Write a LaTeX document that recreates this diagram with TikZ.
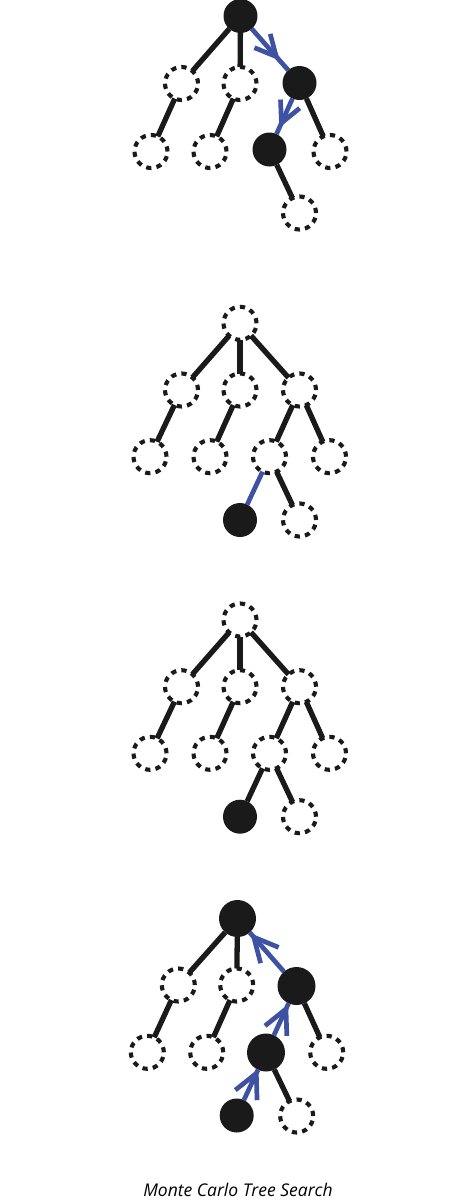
\documentclass[tikz,border=0pt]{standalone}
\usepackage{fontspec}
\setmainfont{Open Sans}
\usetikzlibrary{decorations.markings}
\definecolor{ink}{RGB}{26,26,26}
\definecolor{mblue}{RGB}{62,82,163}
\tikzset{
  onode/.style={circle,draw=ink,line width=4.1pt,dash pattern=on 5.2pt off 5.2pt,minimum size=33pt,inner sep=0pt,outer sep=0pt},
  fnode/.style={circle,fill=ink,minimum size=#1,inner sep=0pt,outer sep=0pt},
  fnode/.default=34pt,
  blk/.style={draw=ink,line width=5.3pt},
  blu/.style={draw=mblue,line width=4.7pt},
  chev/.style n args={3}{blu,postaction={decorate},
    decoration={markings,mark=at position #1 with {\draw[mblue,line width=4.7pt,solid,line join=miter] (-#2,#3) -- (0pt,0pt) -- (-#2,-#3);}}},
}
\begin{document}
\begin{tikzpicture}[x=1pt,y=-1pt]
\useasboundingbox (0,0) rectangle (476,1200);
% ---------- panel 1: selection ----------
\node[fnode] (r1) at (240.5,16) {};
\node[onode] (a1) at (181.5,83.5) {};
\node[onode] (b1) at (240,83.5) {};
\node[fnode] (c1) at (299.5,83) {};
\node[onode] (d1) at (151,151.5) {};
\node[onode] (e1) at (210,151.5) {};
\node[fnode] (f1) at (269.5,149.5) {};
\node[onode] (g1) at (330,151.5) {};
\node[onode] (h1) at (299.5,213) {};
\draw[blk] (r1) -- (a1);
\draw[blk] (r1) -- (b1);
\draw[blk] (a1) -- (d1);
\draw[blk] (b1) -- (e1);
\draw[blk] (c1) -- (g1);
\draw[blk] (f1) -- (h1);
\draw[chev={0.67}{21pt}{10.5pt}] (r1) -- (c1);
\draw[chev={0.69}{21pt}{10.5pt}] (c1) -- (f1);
% ---------- panel 2: expansion ----------
\node[onode] (r2) at (240,323.3) {};
\node[onode] (a2) at (181.5,390) {};
\node[onode] (b2) at (240,390) {};
\node[onode] (c2) at (299.5,390) {};
\node[onode] (d2) at (150,456.7) {};
\node[onode] (e2) at (210,456.7) {};
\node[onode] (f2) at (269.5,456.7) {};
\node[onode] (g2) at (329.5,456.7) {};
\node[fnode] (h2) at (240,520) {};
\node[onode] (i2) at (299.5,520) {};
\draw[blk] (r2) -- (a2);
\draw[blk] (r2) -- (b2);
\draw[blk] (r2) -- (c2);
\draw[blk] (a2) -- (d2);
\draw[blk] (b2) -- (e2);
\draw[blk] (c2) -- (f2);
\draw[blk] (c2) -- (g2);
\draw[blu] (f2) -- (h2);
\draw[blk] (f2) -- (i2);
% ---------- panel 3: simulation ----------
\node[onode] (r3) at (240,620) {};
\node[onode] (a3) at (181.5,686.7) {};
\node[onode] (b3) at (240,686.7) {};
\node[onode] (c3) at (299.5,686.7) {};
\node[onode] (d3) at (150,753.3) {};
\node[onode] (e3) at (210,753.3) {};
\node[onode] (f3) at (269.5,753.3) {};
\node[onode] (g3) at (329.5,753.3) {};
\node[fnode] (h3) at (240,816.7) {};
\node[onode] (i3) at (299.5,816.7) {};
\draw[blk] (r3) -- (a3);
\draw[blk] (r3) -- (b3);
\draw[blk] (r3) -- (c3);
\draw[blk] (a3) -- (d3);
\draw[blk] (b3) -- (e3);
\draw[blk] (c3) -- (f3);
\draw[blk] (c3) -- (g3);
\draw[blk] (f3) -- (h3);
\draw[blk] (f3) -- (i3);
% ---------- panel 4: backpropagation ----------
\node[fnode=37pt] (r4) at (237.5,918.5) {};
\node[onode] (a4) at (178.3,985) {};
\node[onode] (b4) at (236.7,985) {};
\node[fnode=38pt] (c4) at (296.5,986) {};
\node[onode] (d4) at (147.3,1052.3) {};
\node[onode] (e4) at (206.7,1052.3) {};
\node[fnode=38pt] (f4) at (266,1052.5) {};
\node[onode] (g4) at (326.7,1052.3) {};
\node[fnode=34pt] (h4) at (236.7,1115.5) {};
\node[onode] (i4) at (296.7,1116) {};
\draw[blk] (r4) -- (a4);
\draw[blk] (r4) -- (b4);
\draw[blk] (a4) -- (d4);
\draw[blk] (b4) -- (e4);
\draw[blk] (c4) -- (g4);
\draw[blk] (f4) -- (i4);
\draw[chev={0.88}{24pt}{12pt}] (c4) -- (r4);
\draw[chev={0.82}{24pt}{12pt}] (f4) -- (c4);
\draw[chev={0.88}{24pt}{12pt}] (h4) -- (f4);
% ---------- caption ----------
\node[font=\fontsize{17.5}{20}\selectfont\itshape,anchor=base,inner sep=0pt] (cap) at (238,1196.5) {Monte Carlo Tree Search};
\end{tikzpicture}
\end{document}
